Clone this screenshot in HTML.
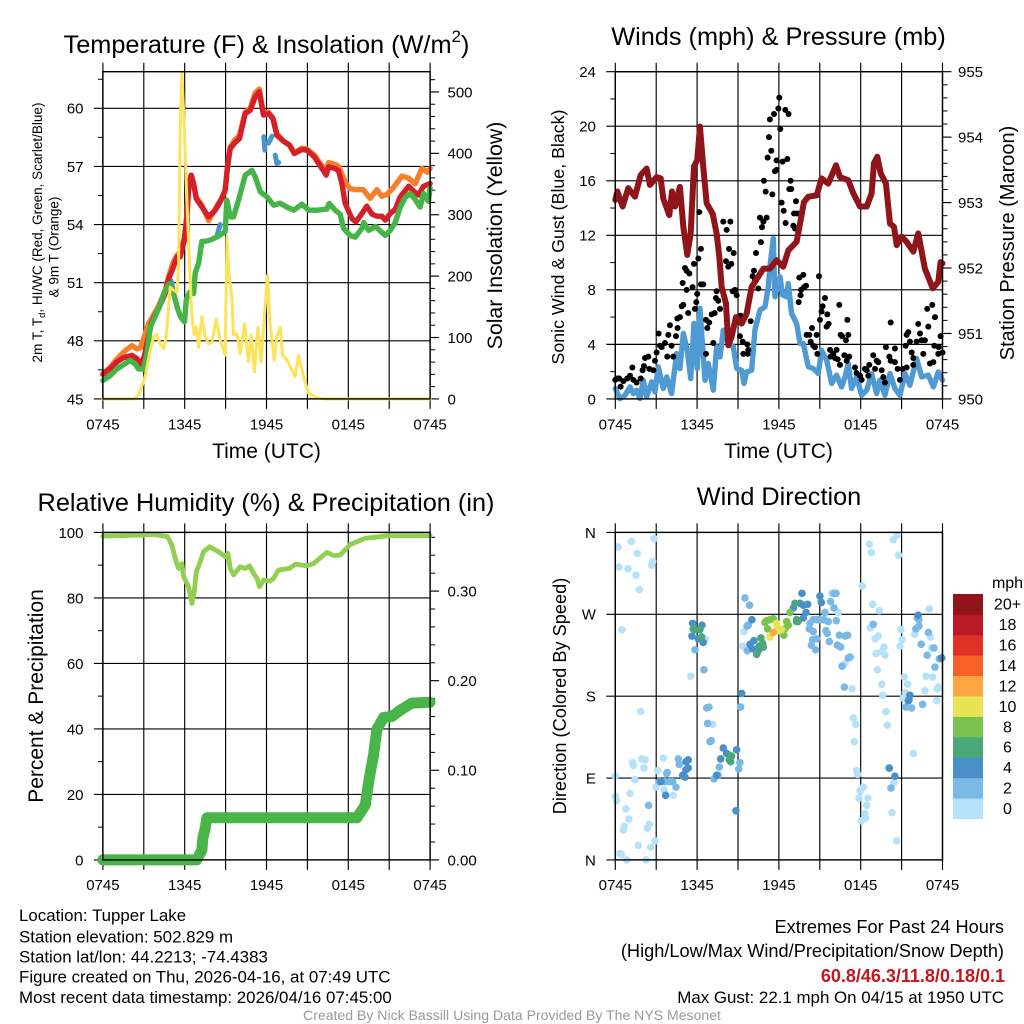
<!DOCTYPE html>
<html lang="en">
<head>
<meta charset="utf-8">
<title>Tupper Lake Meteogram</title>
<style>
html,body{margin:0;padding:0;background:#fff;}
svg{display:block;}
text{font-family:"Liberation Sans",sans-serif;fill:#000;}
</style>
</head>
<body>
<svg id="chart" xmlns="http://www.w3.org/2000/svg" width="1024" height="1024" viewBox="0 0 1024 1024">
<rect x="0" y="0" width="1024" height="1024" fill="#fff"/>

<text x="266.5" y="53" font-size="25.3" text-anchor="middle">Temperature (F) &amp; Insolation (W/m<tspan font-size="17" dy="-11">2</tspan><tspan dy="11">)</tspan></text>
<text x="778.5" y="45" font-size="25.3" text-anchor="middle">Winds (mph) &amp; Pressure (mb)</text>
<text x="266" y="511" font-size="25.3" text-anchor="middle">Relative Humidity (%) &amp; Precipitation (in)</text>
<text x="779" y="505" font-size="25.3" text-anchor="middle">Wind Direction</text>

<text x="266.5" y="458" font-size="21" text-anchor="middle">Time (UTC)</text>
<text x="778.5" y="458" font-size="21" text-anchor="middle">Time (UTC)</text>

<text transform="translate(42,232.5) rotate(-90)" font-size="13.5" text-anchor="middle">2m T, T<tspan font-size="9.5" dy="3">d</tspan><tspan dy="-3">, HI/WC (Red, Green, Scarlet/Blue)</tspan></text>
<text transform="translate(58.5,247) rotate(-90)" font-size="13.5" text-anchor="middle">&amp; 9m T (Orange)</text>
<text transform="translate(502,235.5) rotate(-90)" font-size="21.3" text-anchor="middle">Solar Insolation (Yellow)</text>
<text transform="translate(564,237) rotate(-90)" font-size="17.8" text-anchor="middle">Sonic Wind &amp; Gust (Blue, Black)</text>
<text transform="translate(1014,243) rotate(-90)" font-size="20" text-anchor="middle">Station Pressure (Maroon)</text>
<text transform="translate(43,696) rotate(-90)" font-size="21" text-anchor="middle">Percent &amp; Precipitation</text>
<text transform="translate(566,696) rotate(-90)" font-size="18.2" text-anchor="middle">Direction (Colored By Speed)</text>

<text x="19" y="921" font-size="16.9">Location: Tupper Lake</text>
<text x="19" y="942.5" font-size="16.9">Station elevation: 502.829 m</text>
<text x="19" y="962.5" font-size="16.9">Station lat/lon: 44.2213; -74.4383</text>
<text x="19" y="982.5" font-size="16.9">Figure created on Thu, 2026-04-16, at 07:49 UTC</text>
<text x="19" y="1003" font-size="16.9">Most recent data timestamp: 2026/04/16 07:45:00</text>

<text x="1004" y="933" font-size="18.2" text-anchor="end">Extremes For Past 24 Hours</text>
<text x="1004" y="957" font-size="18.2" text-anchor="end">(High/Low/Max Wind/Precipitation/Snow Depth)</text>
<text x="1005" y="982" font-size="18" font-weight="bold" text-anchor="end" style="fill:#c4161c">60.8/46.3/11.8/0.18/0.1</text>
<text x="1004" y="1003" font-size="16.9" text-anchor="end">Max Gust: 22.1 mph On 04/15 at 1950 UTC</text>
<text x="512" y="1020" font-size="14.07" text-anchor="middle" style="fill:#9a9a9a">Created By Nick Bassill Using Data Provided By The NYS Mesonet</text>

<text x="1007.5" y="588" font-size="16" text-anchor="middle">mph</text>
</svg>

<script>
// ---------- shared axis labels ----------
const timeTickHours = [0, 6, 12, 18, 24];
const timeTickLabels = ['0745', '1345', '1945', '0145', '0745'];
const timeGridHours = [0, 3, 6, 9, 12, 15, 18, 21, 24];

// ---------- temperature panel ----------
const tempTicks = [45, 48, 51, 54, 57, 60];
const tempMinorTicks = [46.5, 49.5, 52.5, 55.5, 58.5, 61.5];
const solarTicks = [0, 100, 200, 300, 400, 500];
const solarMinorTicks = [20,40,60,80,120,140,160,180,220,240,260,280,320,340,360,380,420,440,460,480,520];

const tempHours = [0,.54,1.03,1.52,2.13,2.49,2.74,3.03,3.23,3.59,4.08,4.57,4.82,5.13,5.43,5.67,5.97,6.16,6.31,6.48,6.65,6.85,7.26,7.75,8.24,8.73,8.97,9.14,9.34,9.71,10.02,10.44,10.81,11.17,11.47,11.78,12.15,12.47,12.76,13.25,13.69,14.03,14.6,14.96,15.5,15.99,16.38,16.55,17.04,17.29,17.53,17.77,18.26,18.56,19,19.36,19.73,20.1,20.46,20.71,21.08,21.44,21.81,22.42,22.84,23.15,23.52,24];
const tempValues = [46.27,46.57,46.91,47.13,47.25,47.08,46.79,47.17,47.86,48.98,49.66,50.44,51.21,51.73,52.33,52.33,53.19,54.4,56.12,56.55,56.12,55.34,54.91,54.4,54.74,55.34,55.77,56.98,57.93,58.24,58.44,59.73,59.9,60.59,60.85,59.65,59.73,59.47,58.61,58.3,58.1,57.67,57.87,57.84,57.5,56.98,56.55,56.98,56.89,56.77,56.12,55.09,54.31,54.14,54.57,54.95,54.54,54.43,54.43,54.23,54.57,54.78,55.43,55.98,55.69,55.52,55.98,56.12];

const airTemp9mHours = [0,.54,1.03,1.64,2.13,2.49,2.74,3.03,3.35,4.08,4.57,4.82,5.13,5.43,5.67,5.97,6.16,6.31,6.48,6.65,6.85,7.26,7.75,8.24,8.73,8.97,9.14,9.34,9.71,10.02,10.44,10.81,11.17,11.47,11.78,12.15,12.47,12.76,13.25,13.69,14.03,14.6,14.96,15.5,15.99,16.38,16.55,17.04,17.29,17.53,17.77,18.13,18.6,19.1,19.6,20.1,20.46,20.83,21.3,21.93,22.42,22.9,23.4,23.8,24];
const airTemp9mValues = [46.3,46.63,47.06,47.49,47.75,47.58,47.63,48.19,48.88,49.8,50.6,51.3,52,52.4,52.6,53.3,54.5,56.1,56.5,56.1,55.4,55,54.2,54.8,55.4,55.8,57,58,58.4,58.6,59.8,60,60.8,61,59.7,59.8,59.5,58.7,58.3,58.1,57.7,57.95,57.9,57.6,57.1,56.8,57.2,57.1,57,56.6,56.2,55.85,55.8,55.8,55.35,55.8,55.46,55.55,55.9,56.5,56.4,56.1,56.9,56.7,56.9];

const dewPointHours = [0,.54,1.03,1.52,2,2.37,2.6,2.98,3.23,3.47,4.08,4.57,4.89,5.18,5.48,5.72,5.99,6.11,6.36,6.65,6.77,7.02,7.26,7.5,7.87,8.48,8.97,9.09,9.34,9.58,9.95,10.44,10.93,11.17,11.54,12.03,12.52,13,13.5,14,14.6,15.1,15.7,16.43,16.6,17.04,17.4,17.65,18.14,18.51,19,19.13,19.49,20,20.3,20.71,21.08,21.44,21.81,22.18,22.55,22.9,23.27,23.52,23.88,24];
const dewPointValues = [45.95,46.2,46.55,46.77,46.98,46.8,46.55,46.55,47.31,48.69,49.66,50.6,50.95,50.44,49.66,49.2,48.98,50.1,50.5,50.44,51.5,52,53.13,53.13,53.2,53.4,53.64,55.26,54.4,54.4,55.26,56.55,56.8,56.47,55.7,55.43,55,55.1,54.9,54.74,55.05,54.74,54.74,54.8,55.09,54.74,54.54,53.8,53.44,53.35,53.8,54.1,53.7,53.9,53.7,53.44,53.7,54.1,54.9,55.4,55.6,55.3,54.9,55.6,55.2,55.9];

const heatIndexHours = [5,5.13,5.14,6.17,6.22,6.23,8.4,8.6,8.61,11.8,11.88,11.89,12.15,12.4,12.41,12.64,12.76,12.9];
const heatIndexValues = [51.1,50.7,null,53.2,54.3,null,53.5,54,null,58.53,57.84,null,58.2,58.56,null,57.58,57.15,57.2];

const solarHours = [0,2.25,2.62,3.1,3.42,3.72,3.96,4.2,4.45,4.65,4.94,5.18,5.43,5.55,5.67,5.79,5.97,6.16,6.36,6.53,6.7,6.85,7.02,7.26,7.51,7.75,8,8.31,8.61,8.85,8.97,9.1,9.24,9.46,9.58,9.83,10.07,10.39,10.68,10.88,11.12,11.37,11.61,11.86,12.08,12.27,12.57,12.76,13,13.18,13.5,13.86,14.1,14.35,14.72,15.09,15.7,16.19,24];
const solarValues = [0,0,6,36,74,101,105,90,82,101,182,177,174,215,443,533,443,324,215,134,105,117,84,134,101,90,92,130,95,79,71,264,204,166,104,106,74,122,60,104,44,117,60,139,201,122,63,101,117,71,63,47,36,71,36,9,2,0,0];

// ---------- winds panel ----------
const windTicks = [0, 4, 8, 12, 16, 20, 24];
const windMinorTicks = [2, 6, 10, 14, 18, 22];
const pressureTicks = [950, 951, 952, 953, 954, 955];
const pressureMinorTicks = [950.2,950.4,950.6,950.8,951.2,951.4,951.6,951.8,952.2,952.4,952.6,952.8,953.2,953.4,953.6,953.8,954.2,954.4,954.6,954.8];

const pressureHours = [0,.15,.54,.95,1.44,1.86,2.3,2.54,3.03,3.33,3.52,3.96,4.16,4.38,4.74,4.99,5.28,5.53,5.77,6.01,6.21,6.45,6.7,7.14,7.43,7.63,7.8,8.12,8.29,8.53,8.85,9.27,9.63,10,10.49,10.86,11.34,11.83,12.32,12.69,13.3,13.55,13.84,14.16,14.77,15.13,15.62,16.19,16.48,17.09,17.46,17.95,18.44,18.8,18.97,19.22,19.46,19.85,20.15,20.44,20.64,21,21.37,21.86,22.22,22.71,23.28,23.69,23.86,24];
const pressureValues = [953.04,953.17,952.94,953.22,953.09,953.42,953.52,953.27,953.39,953.37,953.06,952.81,953.17,952.94,953.24,952.63,952.2,952.53,953.55,953.65,954.16,953.55,952.99,952.83,952.53,952.17,951.71,951.46,950.82,950.95,951.25,951.15,951.3,951.71,951.87,951.99,951.99,952.12,952.02,952.27,952.4,952.68,953.01,953.09,953.11,953.37,953.29,953.57,953.39,953.34,953.14,952.94,952.94,953.14,953.6,953.7,953.45,953.29,952.68,952.63,952.35,952.48,952.4,952.25,952.53,951.99,951.69,951.79,952.09,952.07];

const sonicHours = [0,.34,.71,1.08,1.32,1.56,1.81,2.05,2.3,2.67,2.91,3.15,3.52,3.77,4.13,4.5,4.74,4.99,5.28,5.53,5.77,6.01,6.21,6.58,6.82,7.19,7.43,7.68,7.92,8.29,8.66,8.9,9.27,9.44,9.63,10,10.24,10.61,10.98,11.22,11.34,11.59,11.71,12.08,12.27,12.57,12.69,12.93,13.3,13.55,13.79,14.16,14.52,14.89,15.13,15.5,15.87,16.23,16.6,16.85,17.09,17.33,17.7,18.07,18.44,18.8,19.17,19.41,19.78,20.15,20.51,20.88,21.25,21.61,22.1,22.47,22.96,23.33,23.69,24];
const sonicValues = [.76,.02,.27,.88,.39,.64,.02,1.37,.15,1.25,.51,2.35,.76,1.61,.39,3.33,2.23,4.8,3.57,1.49,5.53,2.23,6.63,1.37,2.59,.64,3.82,3.08,5.04,4.06,3.82,2.23,2.1,1.13,1.98,2.1,5.04,6.51,6.75,8.22,9.69,11.77,7.49,8.95,7.61,7.49,8.46,6.26,5.53,4.06,4.06,2.35,2.23,1.86,3.57,2.84,1.13,1.74,.88,1.61,2.59,.76,1.61,.27,.64,1.86,.39,1.37,.27,1.86,.76,.27,1.86,1,2.96,1.61,1.74,.88,1.98,1.37];

const gustHours = [0,.15,.29,.39,.59,.88,1.08,1.25,1.32,1.56,1.86,2,2.1,2.18,2.42,2.49,2.79,2.91,3.03,3.18,3.28,3.4,3.64,3.81,3.89,4.01,4.13,4.25,4.45,4.57,4.55,4.74,4.87,4.99,4.94,5.11,5.23,5.43,5.23,5.35,5.67,5.84,5.94,6.01,5.77,6.09,6.28,6.16,6.28,6.45,6.65,6.75,6.89,7.07,7.29,7.19,6.65,7.38,7.43,7.55,7.68,7.92,8.17,8.44,8.34,8.68,8.12,8.29,8.51,8.61,8.78,8.9,9.1,9.19,9.14,9.34,9.39,9.68,9.76,9.71,9.93,10.17,10.07,10.24,10.49,10.32,10.68,10.61,10.76,10.86,11.1,10.9,11.03,11.52,11.17,11.44,11.27,11.34,11.64,11.96,12.03,12.47,12.71,12.1,11.83,12.27,12.62,11.71,11.83,12.86,12.91,12.76,12.2,12.35,12.49,13.06,13.18,13.11,13.35,13.25,13.5,13.79,13.62,13.84,13.99,13.59,13.45,14.94,15.38,15.21,15.13,15.01,15.55,15.65,15.5,16.43,17.02,16.53,16.63,17.09,16.92,14.43,14.03,14.23,14.33,14.52,14.77,14.65,14.82,15.75,15.99,16.23,15.79,16.11,16.31,16.48,16.8,17.16,16.97,17.58,17.7,17.95,18.07,18.31,18.63,18.44,18.92,19.17,19.29,19.05,18.56,19.54,19.66,19.78,19.85,20.2,20.1,20.2,20.51,20.51,20.71,20.88,21.08,21.37,21.3,21.37,21.61,21.49,21.74,21.86,21.86,22.1,22.22,22.35,22.47,22.59,22.71,22.88,22.96,23.08,23.25,23.45,23.4,23.33,23.72,23.69,23.86,24];
const gustValues = [1.4,1.5,1.5,.9,1.3,1.5,1.7,2.3,1.4,1.2,1.5,2.1,2.4,3,3.1,2.2,2.1,2.8,3.4,4.8,3.9,3.8,4.1,3.1,4.7,5.4,3.9,3.1,4.6,5.2,5.9,6,6.8,6.9,8.5,9.6,9.4,9.2,8,6.3,8.2,6.6,7.1,7.7,9.9,10.3,11,13.7,8.4,8.4,5.8,5.2,5.6,6.2,6.3,4.1,3.3,7.4,7.9,7.2,6.6,13,12.4,13,11,10.7,10.1,9.7,9.9,7.9,8,7.6,6,6.1,4.6,4.2,3.3,4,3.6,3.3,5.7,9.4,9,8.7,8.1,10.7,11.5,13.3,12.6,13,13.3,16,15.2,15,17.7,18.2,19.2,20.5,20.9,21.3,22.1,21.2,20.9,19.8,17.5,17.4,17.6,16.7,16.8,16,15.4,15.4,14.4,13.8,12.9,12.7,12.5,13.6,13.6,14.5,8.9,9.1,8,8.2,8.3,7.6,7.1,9,7.4,6.8,6.4,5.8,6.2,5.5,5.3,6.9,5.8,4.7,4.6,4.7,4.3,5.2,4.7,4.7,4.2,3.9,4.7,3.8,3.3,3.6,3.3,3.6,3.1,3,2.9,2.5,3.2,3.1,2.8,2.3,1.9,1.7,1.4,2.2,2.5,2.1,3.2,2.8,2.7,2.2,1.7,2.1,1.6,1.2,3.8,5.6,3.1,2.8,3.7,2.7,2.2,1.4,2.2,2.3,3.9,4.7,4.2,4.9,3.4,3,2.5,4.2,5.5,4.8,4.3,3.3,4.3,6.6,5.3,2.6,6.9,6,3.9,2.7,3.8,3.3,4.6,3.4];

// ---------- humidity panel ----------
const humidityTicks = [0, 20, 40, 60, 80, 100];
const humidityMinorTicks = [10, 30, 50, 70, 90];
const precipTicks = [0, 0.1, 0.2, 0.3];
const precipTickLabels = ['0.00', '0.10', '0.20', '0.30'];
const precipMinorTicks = [.02,.04,.06,.08,.12,.14,.16,.18,.22,.24,.26,.28,.32,.34,.36];

const humidityHours = [0,2.98,3.72,4.74,5.06,5.38,5.55,5.79,5.92,6.28,6.53,6.7,6.85,7.14,7.38,7.82,8.48,8.97,9.17,9.34,9.58,10.07,10.44,10.76,11.05,11.3,11.49,11.78,12.27,12.52,12.88,13.69,14.11,14.96,15.45,16.43,16.92,17.41,18.14,19.24,20.95,22.54,24];
const humidityValues = [98.88,99.2,99.4,98.7,96.1,91,89,90.5,86.5,83.4,78.3,81.9,88,91,94.1,95.6,94.1,92.6,93.6,89,87,89.5,89,89.8,87.5,86,83.4,85.5,85.1,86,88.5,89,90.3,89.8,90.5,93.9,92.9,93.1,96.3,98.2,99,99,99];

const precipHours = [0,6.89,7.26,7.33,7.5,7.63,18.63,19.24,19.49,19.85,20.1,20.59,21.2,21.81,22.66,24];
const precipValues = [0,0,.011,.024,.035,.047,.047,.061,.087,.117,.146,.159,.16,.167,.175,.176];

// ---------- wind direction panel ----------
const directionTicks = [0, 90, 180, 270, 360];
const directionTickLabels = ['N', 'E', 'S', 'W', 'N'];

const directionHours = [.2,1.17,2.84,1.61,.27,.93,1.52,2.67,2.74,1.76,.49,5.53,1.86,1.27,1.32,1.93,2.18,2.1,3.52,3.11,1.44,0,0,.1,1.08,.78,1,.66,.59,2.49,2.35,2.91,1.69,2.59,.34,.44,.83,2.25,2.98,3.57,4.25,6.6,7.14,9.44,9.34,18.63,18.78,20.39,20.68,20.78,18.12,18.88,19.36,18.7,19.05,19.29,19.12,19.71,19.54,19.78,19.22,19.54,19.61,19.85,19.95,17.36,17.46,17.63,17.53,17.7,17.78,18.19,17.95,18.53,17.87,18.44,18.31,18.36,18.04,20.29,20.64,20.44,21.86,20.05,23.03,20.95,21.03,20.88,21.96,23.13,23.2,21.2,21.44,22.79,23.28,23.69,23.62,22.71,23.57,21.27,21.12,16.36,15.87,16.85,17.26,
9.51,9.85,9.66,9.76,9.68,5.84,6.5,6.7,6.87,6.77,6.94,7.04,7.63,9.19,9.14,9.05,7.24,7.55,3.77,3.96,3.23,3.64,4.21,4.45,3.81,4.62,4.69,2.44,14.28,14.52,14.77,15.01,15.31,15.62,16.21,14.23,14.52,15.45,15.55,14.47,14.77,14.38,14.69,15.7,16.28,16.53,16.43,16.87,17.04,17.09,17.21,16.63,16.8,15.79,16.04,16.19,16.04,15.38,18.92,22.27,22.15,22.27,22.96,22.05,22.88,23.37,23.45,23.77,22.44,21.32,21.74,22.54,21.56,20.22,
5.67,6.36,5.62,6.09,6.45,13.69,15.01,15.11,14.11,13.06,13.55,13.79,13.99,13.79,13.3,10.02,10.17,10.07,10.49,7.92,7.73,8.17,8.9,5.18,5.35,5.18,5.35,4.94,5.11,3.35,3.69,7.43,8.85,20.1,20.51,23.94,21.61,21.49,22.22,9.27,9.88,
5.84,6.21,6.33,5.72,8.41,8.53,8.36,8.46,10.37,10.68,10.86,10.56,10.81,13.18,13.3,13.4,
11.1,10.98,11.34,11.59,11.17,12.81,12.57,12.69,12.44,12.37,
11.83,11.88,11.34,12.2,11.96,
11.59];
const directionValues = [344,350,353,337,322,320,313,324,328,297,253,202,163,107,104,111,110,101,112,98,88,92,70,65,73,56,45,37,33,39,35,21,16,14,7,6,0,0,80,77,71,243,149,251,235,347,338,352,357,335,301,281,274,255,243,246,227,234,229,225,209,193,181,163,148,188,156,149,130,98,94,80,76,68,68,60,51,46,43,52,21,85,117,101,276,253,242,235,248,245,233,201,193,202,201,190,188,186,175,184,178,272,293,216,223,
288,280,257,258,230,231,209,167,168,150,130,131,102,168,107,100,89,93,95,86,86,86,86,80,96,111,105,60,260,264,264,264,264,262,263,254,251,252,249,242,243,236,231,240,236,234,247,246,247,222,223,213,190,284,293,293,277,272,259,264,266,257,250,254,225,233,212,221,237,168,167,171,176,79,
260,258,246,243,239,293,290,283,281,277,282,280,272,266,262,264,241,232,230,123,111,117,121,108,110,99,101,93,91,86,71,93,54,101,92,222,181,175,269,183,237,
253,253,245,254,115,114,110,108,226,244,234,235,238,282,264,262,
263,261,264,265,254,272,262,258,254,247,
260,256,245,253,252,
250];
const directionSpeeds = [1,1,1,1,1,1,1,1,1,1,1,1,1,1,1,1,1,1,1,1,1,1,1,1,1,1,1,1,1,1,1,1,1,1,1,1,1,1,1,1,1,1,1,1,1,1,1,1,1,1,1,1,1,1,1,1,1,1,1,1,1,1,1,1,1,1,1,1,1,1,1,1,1,1,1,1,1,1,1,1,1,1,1,1,1,1,1,1,1,1,1,1,1,1,1,1,1,1,1,1,1,1,1,1,1,
3,3,3,3,3,3,3,3,3,3,3,3,3,3,3,3,3,3,3,3,3,3,3,3,3,3,3,3,3,3,3,3,3,3,3,3,3,3,3,3,3,3,3,3,3,3,3,3,3,3,3,3,3,3,3,3,3,3,3,3,3,3,3,3,3,3,3,3,3,3,3,3,3,3,
5,5,5,5,5,5,5,5,5,5,5,5,5,5,5,5,5,5,5,5,5,5,5,5,5,5,5,5,5,5,5,5,5,5,5,5,5,5,5,5,5,
7,7,7,7,7,7,7,7,7,7,7,7,7,7,7,7,
9,9,9,9,9,9,9,9,9,9,
11,11,11,11,11,
13];

// ---------- colorbar ----------
const speedBinLabels = ['0', '2', '4', '6', '8', '10', '12', '14', '16', '18', '20+'];
const speedBinColors = ['#b5e2fa', '#7ab8e6', '#4a90c8', '#4aa878', '#7bc24f', '#e8e255', '#fba640', '#f56127', '#e03127', '#b81b25', '#90151a'];

// ---------- drawing ----------
const svg = document.getElementById('chart');
const NS = 'http://www.w3.org/2000/svg';
const TICK_FONT = 15;

function scale(d0, d1, r0, r1) {
  return function (v) { return r0 + (v - d0) * (r1 - r0) / (d1 - d0); };
}

function addLine(parent, x1, y1, x2, y2, width, name) {
  const el = document.createElementNS(NS, 'line');
  el.setAttribute('x1', x1);
  el.setAttribute('y1', y1);
  el.setAttribute('x2', x2);
  el.setAttribute('y2', y2);
  el.setAttribute('stroke', '#000');
  el.setAttribute('stroke-width', width);
  
  
  parent.appendChild(el);
}

function addLabel(parent, x, y, str, anchor, size, name) {
  const el = document.createElementNS(NS, 'text');
  el.setAttribute('x', x);
  el.setAttribute('y', y);
  el.setAttribute('font-size', size);
  el.setAttribute('text-anchor', anchor);
  el.textContent = str;
  
  
  parent.appendChild(el);
}

function addSeries(parent, hours, values, xf, yf, color, width, name) {
  let d = '';
  let pen = false;
  for (let i = 0; i < hours.length; i++) {
    if (values[i] === null) { pen = false; continue; }
    d += (pen ? 'L' : 'M') + xf(hours[i]).toFixed(2) + ' ' + yf(values[i]).toFixed(2);
    pen = true;
  }
  const el = document.createElementNS(NS, 'path');
  el.setAttribute('d', d);
  el.setAttribute('fill', 'none');
  el.setAttribute('stroke', color);
  el.setAttribute('stroke-width', width);
  el.setAttribute('stroke-linecap', 'round');
  el.setAttribute('stroke-linejoin', 'round');
  
  
  parent.appendChild(el);
}

function addFrame(parent, box, prefix) {
  const rect = document.createElementNS(NS, 'rect');
  rect.setAttribute('x', box.l);
  rect.setAttribute('y', box.t);
  rect.setAttribute('width', box.r - box.l);
  rect.setAttribute('height', box.b - box.t);
  rect.setAttribute('fill', 'none');
  rect.setAttribute('stroke', '#000');
  rect.setAttribute('stroke-width', 1.4);
  
  
  parent.appendChild(rect);
}

function addGrid(parent, box, xf, yTicks, yf, prefix) {
  timeGridHours.forEach(function (h) {
    addLine(parent, xf(h), box.t - 9, xf(h), box.b + 10, 1.15, prefix + '-time-gridline');
  });
  yTicks.forEach(function (v) {
    addLine(parent, box.l - 9, yf(v), box.r, yf(v), 1.15, prefix + '-value-gridline');
  });
}

function addTimeLabels(parent, xf, y, prefix) {
  timeTickHours.forEach(function (h, i) {
    addLabel(parent, xf(h), y, timeTickLabels[i], 'middle', TICK_FONT, prefix + '-time-tick-label');
  });
}

function addLeftLabels(parent, box, ticks, yf, prefix) {
  ticks.forEach(function (v) {
    addLabel(parent, box.l - 19.4, yf(v) + 5.4, String(v), 'end', TICK_FONT, prefix + '-left-tick-label');
  });
}

function addRightTicks(parent, box, ticks, minors, yf, prefix) {
  minors.forEach(function (v) {
    addLine(parent, box.r, yf(v), box.r + 5, yf(v), 1, prefix + '-right-minor-tick');
  });
  ticks.forEach(function (v) {
    addLine(parent, box.r, yf(v), box.r + 9, yf(v), 1.15, prefix + '-right-major-tick');
  });
}

function addLeftMinors(parent, box, minors, yf, prefix) {
  minors.forEach(function (v) {
    addLine(parent, box.l - 5, yf(v), box.l, yf(v), 1, prefix + '-left-minor-tick');
  });
}

const tempBox = { l: 102.9, r: 430.1, t: 71.7, b: 398.9 };
const windBox = { l: 615.3, r: 942.5, t: 71.7, b: 398.9 };
const humBox = { l: 102.9, r: 430.1, t: 532.4, b: 859.9 };
const dirBox = { l: 615.3, r: 942.5, t: 532.4, b: 859.9 };

// Temperature panel
(function () {
  const g = document.createElementNS(NS, 'g');
  
  
  svg.appendChild(g);
  const xf = scale(0, 24, tempBox.l, tempBox.r);
  const yf = scale(45, 61.89, tempBox.b, tempBox.t);
  const sf = scale(0, 533, tempBox.b, tempBox.t);
  addGrid(g, tempBox, xf, tempTicks, yf, 'temperature');
  addLeftMinors(g, tempBox, tempMinorTicks, yf, 'temperature');
  addRightTicks(g, tempBox, solarTicks, solarMinorTicks, sf, 'solar');
  addSeries(g, airTemp9mHours, airTemp9mValues, xf, yf, '#f67f2b', 5.4, 'orange-9m-temperature-line');
  addSeries(g, heatIndexHours, heatIndexValues, xf, yf, '#4a94cf', 5, 'blue-heat-index-wind-chill-line');
  addSeries(g, tempHours, tempValues, xf, yf, '#d5202a', 5.4, 'red-2m-temperature-line');
  addSeries(g, dewPointHours, dewPointValues, xf, yf, '#45b548', 5.4, 'green-dew-point-line');
  addSeries(g, solarHours, solarValues, xf, sf, '#fde35a', 3, 'yellow-solar-insolation-line');
  addFrame(g, tempBox, 'temperature');
  addTimeLabels(g, xf, 429.5, 'temperature');
  addLeftLabels(g, tempBox, tempTicks, yf, 'temperature');
  solarTicks.forEach(function (v) {
    addLabel(g, 447.5, sf(v) + 5.4, String(v), 'start', TICK_FONT, 'solar-tick-label');
  });
})();

// Winds panel
(function () {
  const g = document.createElementNS(NS, 'g');
  
  
  svg.appendChild(g);
  const xf = scale(0, 24, windBox.l, windBox.r);
  const yf = scale(0, 24, windBox.b, windBox.t);
  const pf = scale(950, 955, windBox.b, windBox.t);
  addGrid(g, windBox, xf, windTicks, yf, 'winds');
  addLeftMinors(g, windBox, windMinorTicks, yf, 'winds');
  addRightTicks(g, windBox, pressureTicks, pressureMinorTicks, pf, 'pressure');
  addSeries(g, sonicHours, sonicValues, xf, yf, '#4f9ad2', 5.4, 'blue-sonic-wind-line');
  gustHours.forEach(function (h, i) {
    const dot = document.createElementNS(NS, 'circle');
    dot.setAttribute('cx', xf(h));
    dot.setAttribute('cy', yf(gustValues[i]));
    dot.setAttribute('r', 3);
    dot.setAttribute('fill', '#000');
    
    
    g.appendChild(dot);
  });
  addSeries(g, pressureHours, pressureValues, xf, pf, '#90151a', 6, 'maroon-pressure-line');
  addFrame(g, windBox, 'winds');
  addTimeLabels(g, xf, 429.5, 'winds');
  addLeftLabels(g, windBox, windTicks, yf, 'winds');
  pressureTicks.forEach(function (v) {
    addLabel(g, 958, pf(v) + 5.4, String(v), 'start', TICK_FONT, 'pressure-tick-label');
  });
})();

// Humidity panel
(function () {
  const g = document.createElementNS(NS, 'g');
  
  
  svg.appendChild(g);
  const xf = scale(0, 24, humBox.l, humBox.r);
  const yf = scale(0, 100, humBox.b, humBox.t);
  const pf = scale(0, 0.3655, humBox.b, humBox.t);
  addGrid(g, humBox, xf, humidityTicks, yf, 'humidity');
  addLeftMinors(g, humBox, humidityMinorTicks, yf, 'humidity');
  addRightTicks(g, humBox, precipTicks, precipMinorTicks, pf, 'precipitation');
  addSeries(g, humidityHours, humidityValues, xf, yf, '#91cf50', 4.8, 'relative-humidity-line');
  addSeries(g, precipHours, precipValues, xf, pf, '#47b548', 11, 'precipitation-line');
  addFrame(g, humBox, 'humidity');
  addTimeLabels(g, xf, 890, 'humidity');
  addLeftLabels(g, humBox, humidityTicks, yf, 'humidity');
  precipTicks.forEach(function (v, i) {
    addLabel(g, 447.5, pf(v) + 5.4, precipTickLabels[i], 'start', TICK_FONT, 'precipitation-tick-label');
  });
})();

// Wind direction panel
(function () {
  const g = document.createElementNS(NS, 'g');
  
  
  svg.appendChild(g);
  const xf = scale(0, 24, dirBox.l, dirBox.r);
  const yf = scale(0, 360, dirBox.b, dirBox.t);
  addGrid(g, dirBox, xf, directionTicks, yf, 'wind-direction');
  directionHours.forEach(function (h, i) {
    const bin = Math.min(speedBinColors.length - 1, Math.floor(directionSpeeds[i] / 2));
    const dot = document.createElementNS(NS, 'circle');
    dot.setAttribute('cx', xf(h));
    dot.setAttribute('cy', yf(directionValues[i]));
    dot.setAttribute('r', 3.8);
    dot.setAttribute('fill', speedBinColors[bin]);
    
    
    g.appendChild(dot);
  });
  addFrame(g, dirBox, 'wind-direction');
  addTimeLabels(g, xf, 890, 'wind-direction');
  directionTicks.forEach(function (v, i) {
    addLabel(g, dirBox.l - 19.4, yf(v) + 5.4, directionTickLabels[i], 'end', TICK_FONT, 'direction-tick-label');
  });
})();

// Colorbar
(function () {
  const g = document.createElementNS(NS, 'g');
  
  
  svg.appendChild(g);
  const n = speedBinLabels.length;
  const top = 594;
  const bottom = 818.7;
  const h = (bottom - top) / n;
  speedBinLabels.forEach(function (label, i) {
    const y = bottom - (i + 1) * h;
    const box = document.createElementNS(NS, 'rect');
    box.setAttribute('x', 953);
    box.setAttribute('y', y);
    box.setAttribute('width', 30);
    box.setAttribute('height', h + 0.3);
    box.setAttribute('fill', speedBinColors[i]);
    
    
    g.appendChild(box);
    addLabel(g, 1007.5, y + h / 2 + 5.5, label, 'middle', 16, 'colorbar-label');
  });
})();
</script>
</body>
</html>
